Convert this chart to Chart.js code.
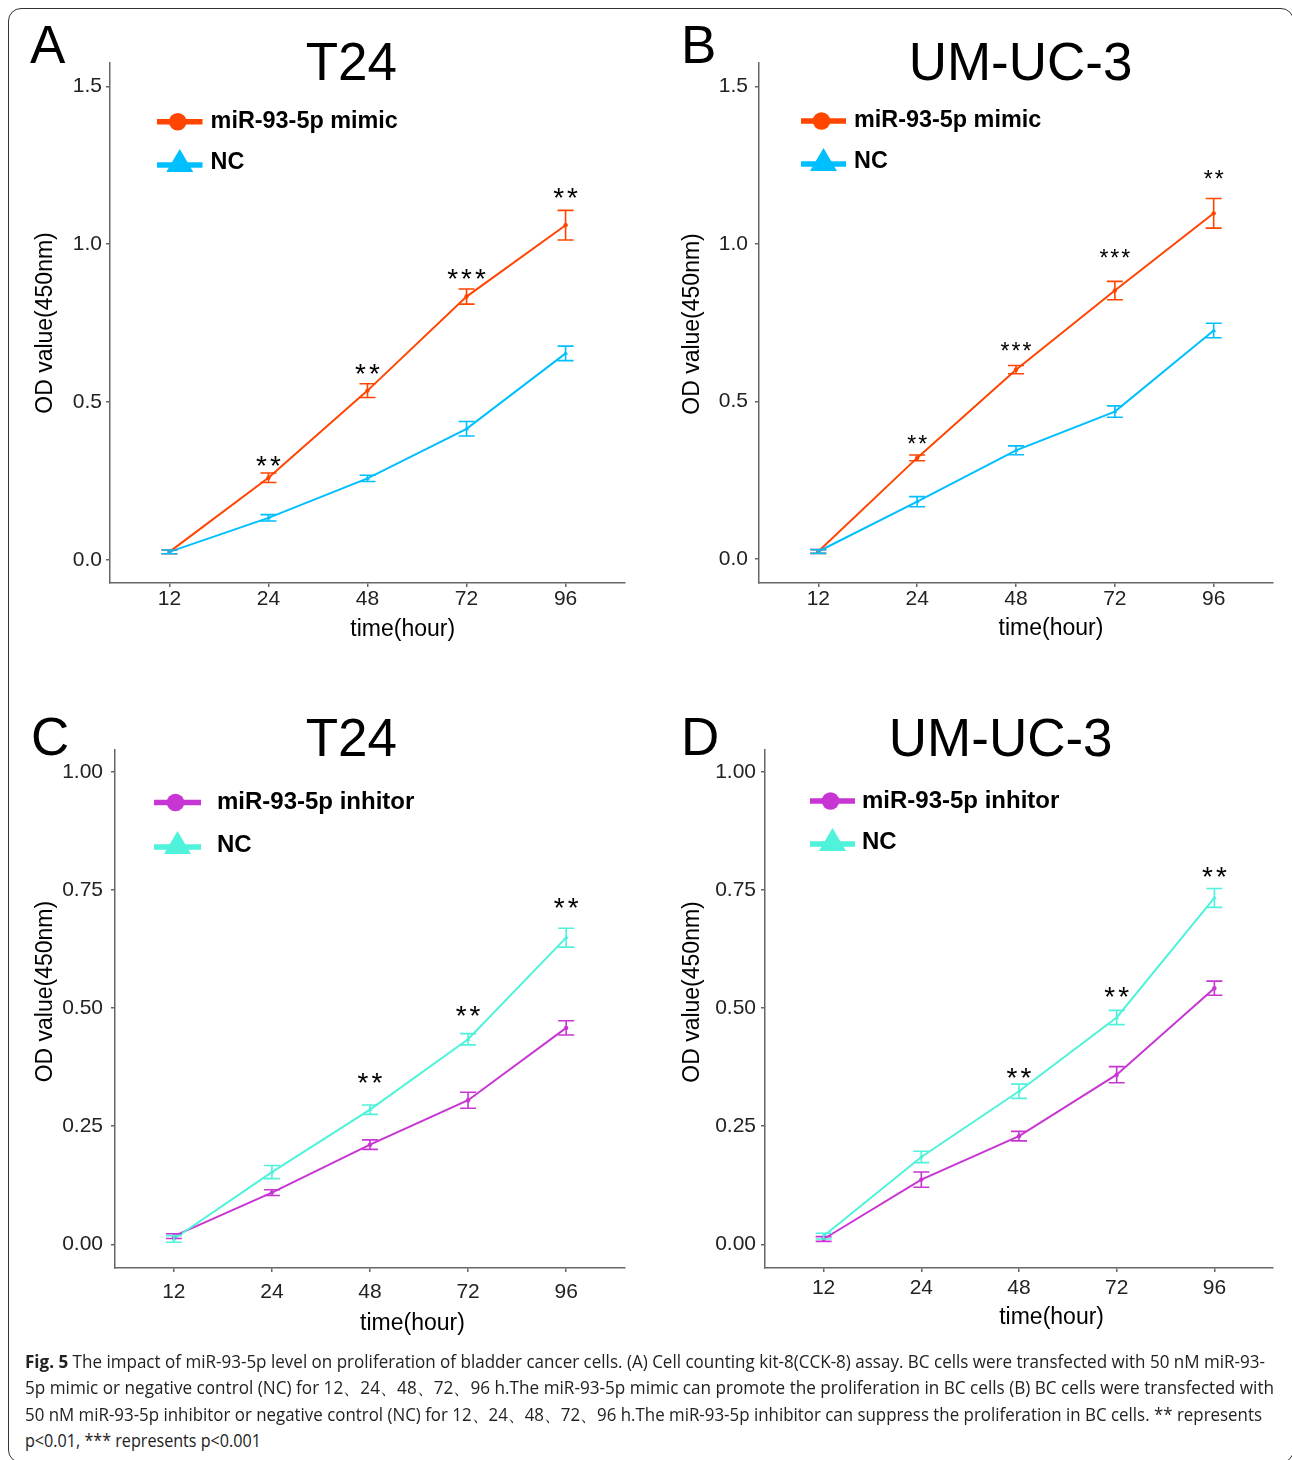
<!DOCTYPE html>
<html>
<head>
<meta charset="utf-8">
<script src="https://cdn.jsdelivr.net/npm/chart.js@4.4.1/dist/chart.umd.min.js"></script>
<style>
  html, body { margin: 0; padding: 0; background: #fff; }
  #page { position: relative; width: 1292px; height: 1460px; overflow: hidden; }
  #frame { position: absolute; left: 8px; top: 8px; width: 1286px; height: 1455px;
           border: 1.6px solid #333; border-radius: 13px; box-sizing: border-box; }
  canvas { position: absolute; }
  .cap { position: absolute; left: 25px; white-space: nowrap; display: inline-block;
         font-family: 'Open Sans', sans-serif; font-size: 18px; line-height: 18px; color: #222;
         transform-origin: 0 0; }
  .cap b { font-weight: 700; }
</style>
</head>
<body>
<div id="page">
  <div id="frame"></div>
  <canvas id="cA"></canvas>
  <canvas id="cB"></canvas>
  <canvas id="cC"></canvas>
  <canvas id="cD"></canvas>
  <div class="cap" style="top:1352px" data-w="1240"><b>Fig. 5</b> The impact of miR-93-5p level on proliferation of bladder cancer cells. (A) Cell counting kit-8(CCK-8) assay. BC cells were transfected with 50 nM miR-93-</div>
  <div class="cap" style="top:1378px" data-w="1249">5p mimic or negative control (NC) for 12、24、48、72、96 h.The miR-93-5p mimic can promote the proliferation in BC cells (B) BC cells were transfected with</div>
  <div class="cap" style="top:1405px" data-w="1237">50 nM miR-93-5p inhibitor or negative control (NC) for 12、24、48、72、96 h.The miR-93-5p inhibitor can suppress the proliferation in BC cells. ** represents</div>
  <div class="cap" style="top:1431px" data-w="236">p&lt;0.01, *** represents p&lt;0.001</div>
</div>
<script>
// time points (x categories)
var hours = ['12', '24', '48', '72', '96'];
var ticksAB = [0, 0.5, 1.0, 1.5];
var ticksCD = [0, 0.25, 0.5, 0.75, 1.0];

// A: T24, mimic vs NC
var aMimic = [0.025, 0.26, 0.536, 0.834, 1.06];
var aMimicErr = [0.006, 0.015, 0.022, 0.024, 0.047];
var aNC = [0.025, 0.133, 0.258, 0.415, 0.654];
var aNCErr = [0.006, 0.01, 0.01, 0.023, 0.023];
var aStars = ['', '**', '**', '***', '**'];
var aStarY = [null, 0.313, 0.603, 0.904, 1.163];

// B: UM-UC-3, mimic vs NC
var bMimic = [0.024, 0.321, 0.601, 0.852, 1.097];
var bMimicErr = [0.006, 0.009, 0.013, 0.029, 0.047];
var bNC = [0.024, 0.182, 0.345, 0.468, 0.725];
var bNCErr = [0.006, 0.016, 0.014, 0.018, 0.023];
var bStars = ['', '**', '***', '***', '**'];
var bStarY = [null, 0.378, 0.676, 0.969, 1.22];

// C: T24, inhibitor vs NC
var cInh = [0.0175, 0.1095, 0.211, 0.305, 0.458];
var cInhErr = [0.005, 0.006, 0.01, 0.017, 0.015];
var cNC = [0.0114, 0.153, 0.285, 0.434, 0.649];
var cNCErr = [0.007, 0.014, 0.01, 0.012, 0.02];
var cStars = ['', '', '**', '**', '**'];
var cStarY = [null, null, 0.353, 0.493, 0.723];

// D: UM-UC-3, inhibitor vs NC
var dInh = [0.0114, 0.137, 0.229, 0.359, 0.542];
var dInhErr = [0.005, 0.016, 0.01, 0.017, 0.015];
var dNC = [0.0175, 0.185, 0.324, 0.48, 0.733];
var dNCErr = [0.006, 0.012, 0.015, 0.015, 0.02];
var dStars = ['', '', '**', '**', '**'];
var dStarY = [null, null, 0.362, 0.535, 0.787];

var ORANGE = '#FF4500', BLUE = '#00BFFF', PURPLE = '#C736D3', TEAL = '#4FF2DA';
var AXIS = '#666';
var FONT = "'Liberation Sans', Arial, Helvetica, sans-serif";
Chart.defaults.font.family = FONT;

function deco(p) {
  function tx(ctx, s, x, y, font, align, base, color) {
    ctx.font = font; ctx.textAlign = align; ctx.textBaseline = base; ctx.fillStyle = color || '#000';
    ctx.fillText(s, x - p.ox, y - p.oy);
  }
  return {
    id: 'deco' + p.id,
    afterDatasetsDraw: function(chart) {
      var ctx = chart.ctx, xs = chart.scales.x, ys = chart.scales.y;
      ctx.save();
      p.series.forEach(function(s) {
        ctx.strokeStyle = s.color; ctx.lineWidth = 1.6;
        s.values.forEach(function(v, i) {
          var x = xs.getPixelForValue(i);
          var y1 = ys.getPixelForValue(v + s.err[i]);
          var y2 = ys.getPixelForValue(v - s.err[i]);
          ctx.beginPath();
          ctx.moveTo(x, y1); ctx.lineTo(x, y2);
          ctx.moveTo(x - 8, y1); ctx.lineTo(x + 8, y1);
          ctx.moveTo(x - 8, y2); ctx.lineTo(x + 8, y2);
          ctx.stroke();
        });
      });
      // significance stars
      ctx.fillStyle = '#000';
      ctx.font = p.starSize + 'px ' + FONT;
      ctx.letterSpacing = p.starGap + 'px';
      ctx.textAlign = 'center'; ctx.textBaseline = 'alphabetic';
      p.stars.forEach(function(st, i) {
        if (!st) return;
        var m = ctx.measureText(st);
        var x = xs.getPixelForValue(i);
        var yc = ys.getPixelForValue(p.starY[i]);
        ctx.fillText(st, x + p.starGap / 2, yc + (m.actualBoundingBoxAscent - m.actualBoundingBoxDescent) / 2);
      });
      ctx.restore();
    },
    afterDraw: function(chart) {
      var ctx = chart.ctx;
      ctx.save();
      tx(ctx, p.letter, p.letterX, p.letterY, '53px ' + FONT, 'left', 'alphabetic');
      tx(ctx, p.title, p.titleX, p.titleY, '53px ' + FONT, 'center', 'alphabetic');
      tx(ctx, 'time(hour)', p.xtX, p.xtY, '23px ' + FONT, 'center', 'middle');
      ctx.save();
      ctx.translate(p.ytX - p.ox, p.ytY - p.oy);
      ctx.rotate(-Math.PI / 2);
      ctx.font = '23px ' + FONT; ctx.textAlign = 'center'; ctx.textBaseline = 'middle'; ctx.fillStyle = '#000';
      ctx.fillText('OD value(450nm)', 0, 0);
      ctx.restore();
      // legend
      var L = p.legend;
      p.series.forEach(function(s, k) {
        var y = L.y[k] - p.oy, x1 = L.x1 - p.ox, x2 = L.x2 - p.ox, mx = (x1 + x2) / 2;
        ctx.strokeStyle = s.color; ctx.fillStyle = s.color; ctx.lineWidth = 5.5;
        ctx.beginPath(); ctx.moveTo(x1, y); ctx.lineTo(x2, y); ctx.stroke();
        ctx.beginPath();
        if (s.marker === 'circle') {
          ctx.arc(mx - 2, y, 8.8, 0, Math.PI * 2);
        } else {
          ctx.moveTo(mx, y - 16); ctx.lineTo(mx + 13.5, y + 7); ctx.lineTo(mx - 13.5, y + 7); ctx.closePath();
        }
        ctx.fill();
        tx(ctx, s.name, L.tx, L.y[k] + (k === 1 ? -2 : 0), 'bold ' + p.legendSize + 'px ' + FONT, 'left', 'middle');
      });
      ctx.restore();
    }
  };
}

function panel(p) {
  var cv = document.getElementById(p.id);
  cv.width = p.w; cv.height = p.h;
  cv.style.left = p.ox + 'px'; cv.style.top = p.oy + 'px';
  cv.style.width = p.w + 'px'; cv.style.height = p.h + 'px';
  var l = p.area[0] - p.ox, t = p.area[1] - p.oy, r = p.area[2] - p.ox, b = p.area[3] - p.oy;
  var tickFont = { size: 21, family: FONT };
  new Chart(cv, {
    type: 'line',
    data: {
      datasets: p.series.map(function(s, k) {
        return {
          label: s.name,
          data: s.values.map(function(v, i) { return { x: i, y: v }; }),
          borderColor: s.color, backgroundColor: s.color,
          pointBackgroundColor: s.color, pointBorderColor: s.color,
          pointStyle: s.marker, pointRadius: s.marker === 'circle' ? 2.2 : 2.8, pointBorderWidth: 0,
          borderWidth: 2, tension: 0, fill: false,
          order: k === 0 ? 1 : 0
        };
      })
    },
    options: {
      responsive: false, animation: false, events: [],
      layout: { padding: { left: 0, top: t, right: p.w - r, bottom: 0 } },
      plugins: { legend: { display: false }, tooltip: { enabled: false } },
      scales: {
        x: {
          type: 'linear', min: -0.6, max: 4.6,
          afterFit: function(s) { s.height = p.h - b; },
          afterBuildTicks: function(s) { s.ticks = hours.map(function(h, i) { return { value: i }; }); },
          ticks: { callback: function(v) { return hours[v]; }, font: tickFont, color: '#222', padding: p.xPad, maxRotation: 0, autoSkip: false },
          grid: { drawOnChartArea: false, drawTicks: true, tickLength: 4, color: AXIS, lineWidth: 1.5 },
          border: { display: true, color: AXIS, width: 1.5 }
        },
        y: {
          min: p.yMin, max: p.yMax,
          afterFit: function(s) { s.width = l; },
          afterBuildTicks: function(s) { s.ticks = p.yTicks.map(function(v) { return { value: v }; }); },
          ticks: { callback: function(v) { return v.toFixed(p.dec); }, font: tickFont, color: '#222', padding: p.yPad },
          grid: { drawOnChartArea: false, drawTicks: true, tickLength: 4, color: AXIS, lineWidth: 1.5 },
          border: { display: true, color: AXIS, width: 1.5 }
        }
      }
    },
    plugins: [deco(p)]
  });
}

panel({
  id: 'cA', ox: 0, oy: 0, w: 646, h: 660, area: [110, 63, 625, 583],
  yMin: -0.0735, yMax: 1.574, yTicks: ticksAB, dec: 1, xPad: 0, yPad: 4,
  series: [
    { name: 'miR-93-5p mimic', color: ORANGE, values: aMimic, err: aMimicErr, marker: 'circle' },
    { name: 'NC', color: BLUE, values: aNC, err: aNCErr, marker: 'triangle' }
  ],
  stars: aStars, starY: aStarY, starSize: 28, starGap: 3,
  letter: 'A', letterX: 30, letterY: 63, title: 'T24', titleX: 351.4, titleY: 80,
  xtX: 402.7, xtY: 630, ytX: 45.6, ytY: 323,
  legend: { x1: 157, x2: 202.5, tx: 210.6, y: [121.7, 165] }, legendSize: 23.4
});

panel({
  id: 'cB', ox: 646, oy: 0, w: 646, h: 660, area: [759, 63, 1273, 583],
  yMin: -0.076, yMax: 1.574, yTicks: ticksAB, dec: 1, xPad: 0, yPad: 7,
  series: [
    { name: 'miR-93-5p mimic', color: ORANGE, values: bMimic, err: bMimicErr, marker: 'circle' },
    { name: 'NC', color: BLUE, values: bNC, err: bNCErr, marker: 'triangle' }
  ],
  stars: bStars, starY: bStarY, starSize: 23, starGap: 2,
  letter: 'B', letterX: 681, letterY: 63, title: 'UM-UC-3', titleX: 1020.5, titleY: 80,
  xtX: 1051, xtY: 629, ytX: 693, ytY: 324,
  legend: { x1: 801, x2: 846, tx: 854, y: [121, 164] }, legendSize: 23.4
});

panel({
  id: 'cC', ox: 0, oy: 680, w: 646, h: 680, area: [115, 750, 625, 1268],
  yMin: -0.05, yMax: 1.046, yTicks: ticksCD, dec: 2, xPad: 8, yPad: 8,
  series: [
    { name: 'miR-93-5p inhitor', color: PURPLE, values: cInh, err: cInhErr, marker: 'circle' },
    { name: 'NC', color: TEAL, values: cNC, err: cNCErr, marker: 'triangle' }
  ],
  stars: cStars, starY: cStarY, starSize: 28, starGap: 3,
  letter: 'C', letterX: 31, letterY: 755, title: 'T24', titleX: 351.4, titleY: 755.5,
  xtX: 412.5, xtY: 1324, ytX: 45.6, ytY: 991.6,
  legend: { x1: 154, x2: 201, tx: 217, y: [802.5, 847] }, legendSize: 24
});

panel({
  id: 'cD', ox: 646, oy: 680, w: 646, h: 680, area: [765, 750, 1273, 1268],
  yMin: -0.05, yMax: 1.046, yTicks: ticksCD, dec: 2, xPad: 4, yPad: 5,
  series: [
    { name: 'miR-93-5p inhitor', color: PURPLE, values: dInh, err: dInhErr, marker: 'circle' },
    { name: 'NC', color: TEAL, values: dNC, err: dNCErr, marker: 'triangle' }
  ],
  stars: dStars, starY: dStarY, starSize: 28, starGap: 3,
  letter: 'D', letterX: 681, letterY: 755, title: 'UM-UC-3', titleX: 1000.7, titleY: 755.5,
  xtX: 1051.6, xtY: 1318, ytX: 693, ytY: 992,
  legend: { x1: 810, x2: 855, tx: 862, y: [801, 844] }, legendSize: 24
});

// squeeze caption lines to the widths in the figure
function fitCaption() {
  document.querySelectorAll('.cap').forEach(function(el) {
    el.style.transform = 'none';
    var w = el.getBoundingClientRect().width;
    el.style.transform = 'scaleX(' + (parseFloat(el.dataset.w) / w) + ')';
  });
}
fitCaption();
if (document.fonts) document.fonts.ready.then(fitCaption);
</script>
</body>
</html>
